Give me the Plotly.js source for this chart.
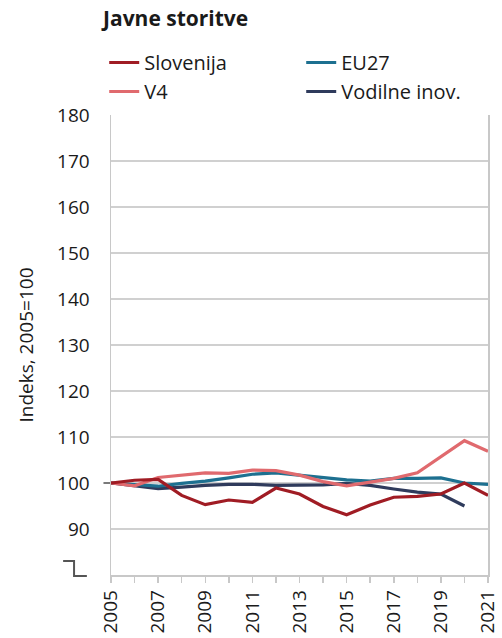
<!DOCTYPE html>
<html>
<head>
<meta charset="utf-8">
<script src="https://cdn.plot.ly/plotly-3.0.1.min.js"></script>
<style>
  html, body { margin: 0; padding: 0; background: #fff; }
  #chart { width: 502px; height: 638px; }
</style>
</head>
<body>
<div id="chart"></div>
<script>
// indeks, 2005 = 100
var years = [2005, 2006, 2007, 2008, 2009, 2010, 2011, 2012, 2013, 2014, 2015, 2016, 2017, 2018, 2019, 2020, 2021];

var slovenija = [100, 100.6, 100.8, 97.3, 95.3, 96.3, 95.8, 98.9, 97.6, 94.9, 93.1, 95.2, 96.9, 97.1, 97.6, 100, 97.3];
var v4        = [100, 99.4, 101.2, 101.7, 102.2, 102.1, 102.8, 102.7, 101.7, 100.3, 99.4, 100.2, 101.0, 102.2, 105.7, 109.2, 106.9];
var eu27      = [100, 99.7, 99.3, 99.9, 100.4, 101.1, 101.9, 102.2, 101.7, 101.1, 100.7, 100.4, 101.0, 101.0, 101.1, 100.0, 99.7];
var vodilne   = [100, 99.4, 98.8, 99.1, 99.5, 99.7, 99.7, 99.5, 99.5, 99.6, 99.9, 99.5, 98.7, 98.0, 97.6, 95.0, null];

var yTicks = [90, 100, 110, 120, 130, 140, 150, 160, 170, 180];
var xTicks = [2005, 2007, 2009, 2011, 2013, 2015, 2017, 2019, 2021];

var fontFam = 'Open Sans, Noto Sans, sans-serif';

function line(name, y, color, rank) {
    return {
        x: years,
        y: y,
        name: name,
        type: 'scatter',
        mode: 'lines',
        line: {color: color, width: 3.2},
        legendrank: rank,
        hoverinfo: 'skip'
    };
}

// drawn bottom to top; legendrank keeps the legend order of the original
var data = [
    line('Vodilne inov.', vodilne, '#2f3b5c', 4),
    line('EU27', eu27, '#1d7090', 2),
    line('V4', v4, '#e06a6e', 3),
    line('Slovenija', slovenija, '#a01c24', 1)
];

var layout = {
    width: 502,
    height: 638,
    paper_bgcolor: '#fff',
    plot_bgcolor: '#fff',
    margin: {l: 111, r: 14, t: 115, b: 63},
    font: {family: fontFam, size: 20, color: '#1a1a1a'},
    title: {
        text: '<b>Javne storitve</b>',
        font: {family: fontFam, size: 21, color: '#1a1a1a'},
        x: 103 / 502,
        xanchor: 'left',
        y: 1 - 19 / 638,
        yanchor: 'middle'
    },
    showlegend: true,
    legend: {
        orientation: 'h',
        x: -0.018,
        xanchor: 'left',
        y: 1 + 72 / 460,
        yanchor: 'top',
        entrywidth: 152,
        entrywidthmode: 'pixels',
        font: {family: fontFam, size: 20, color: '#1a1a1a'},
        traceorder: 'normal'
    },
    xaxis: {
        range: [2005, 2021],
        tickvals: xTicks,
        ticktext: xTicks.map(String),
        tickangle: -90,
        ticks: 'outside',
        ticklen: 6,
        tickcolor: '#c8c8c8',
        tickwidth: 1.5,
        minor: {dtick: 1, tick0: 2005, ticks: 'outside', ticklen: 6, tickcolor: '#c8c8c8', tickwidth: 1.5, showgrid: false},
        showgrid: false,
        showline: true,
        linecolor: '#c8c8c8',
        linewidth: 1.5,
        zeroline: false,
        fixedrange: true,
        tickfont: {family: fontFam, size: 19, color: '#1a1a1a'}
    },
    yaxis: {
        range: [80, 180],
        tickvals: yTicks,
        ticks: '',
        ticklabelstandoff: 16,
        showgrid: true,
        gridcolor: '#d0d0d0',
        gridwidth: 1.5,
        showline: true,
        mirror: true,
        linecolor: '#c8c8c8',
        linewidth: 1.5,
        zeroline: false,
        fixedrange: true,
        tickfont: {family: fontFam, size: 19, color: '#1a1a1a'},
        title: {text: 'Indeks, 2005=100', font: {family: fontFam, size: 19, color: '#1a1a1a'}, standoff: 18}
    },
    shapes: [
        // darker base line at 100
        {type: 'line', xref: 'paper', x0: -0.02, x1: 1, yref: 'y', y0: 100, y1: 100,
         line: {color: '#7a7a7a', width: 2}, layer: 'below'},
        // axis break mark
        {type: 'path', xref: 'paper', yref: 'paper',
         path: 'M -0.127,0.0304 L -0.098,0.0304 L -0.098,-0.0022 L -0.064,-0.0022',
         line: {color: '#555', width: 2}}
    ]
};

Plotly.newPlot('chart', data, layout, {displayModeBar: false, staticPlot: true});
</script>
</body>
</html>
